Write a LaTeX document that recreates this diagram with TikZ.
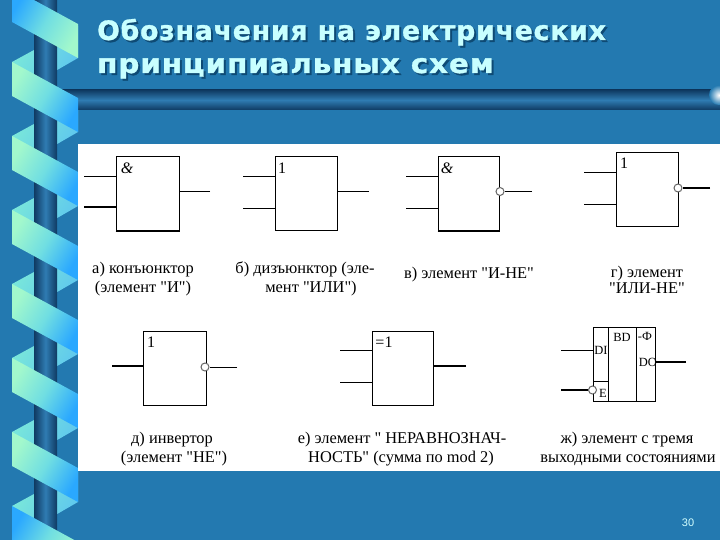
\documentclass[tikz,border=0pt]{standalone}
\usepackage{fontspec}
\setmainfont{Liberation Serif}
\newfontfamily\capfont{Liberation Serif}
\newfontfamily\ttlfont[LetterSpace=3,BoldFeatures={FakeBold=1.2}]{DejaVu Sans}
\newfontfamily\numfont{Liberation Sans}
\definecolor{bgblue}{HTML}{2379B0}
\definecolor{ribgreen}{HTML}{A2F8CC}
\definecolor{ribmid}{HTML}{70DEE2}
\definecolor{ribblue}{HTML}{2AA8FF}
\definecolor{backa}{HTML}{7CEAD8}
\definecolor{backb}{HTML}{5CC4F0}
\definecolor{pildark}{HTML}{0F3A62}
\definecolor{pilmid}{HTML}{2F7CB2}
\definecolor{ttlcol}{HTML}{C8FFFF}
\definecolor{ttlshadow}{HTML}{0E4A74}
\tikzset{
  x=1pt,y=-1pt,
  gatebox/.style={draw=black,fill=white,line width=1pt,inner sep=0pt,minimum width=#1,minimum height=74pt},
  wire/.style={draw=black,line width=0.8pt},
  thickwire/.style={draw=black,line width=1.7pt},
  bubble/.style={circle,draw=black!60,fill=white,line width=1pt,inner sep=0pt,minimum size=8pt},
  captxt/.style={font=\fontsize{16.4}{18}\capfont,inner sep=0pt,anchor=base},
  symtxt/.style={font=\fontsize{16}{18}\capfont,inner sep=0pt,anchor=center},
  smalltxt/.style={font=\fontsize{12.5}{14}\capfont,inner sep=0pt,anchor=center},
  ttl/.style={font=\fontsize{26.7}{30}\ttlfont\bfseries,inner sep=0pt,anchor=base west},
}
\begin{document}
\begin{tikzpicture}
\useasboundingbox (0,0) rectangle (720,540);
\clip (0,0) rectangle (720,540);
\fill[bgblue] (0,0) rectangle (720,540);
% back strips
\foreach \y in {-12,62,136,210,284,358,432,506}{
  \path[top color=backa,bottom color=backb,shading angle=60]
    (12,\y) -- (78,\y-36) -- (78,\y-4) -- (12,\y+34) -- cycle;
}
% pillar
\path[left color=pildark,right color=pildark,middle color=pilmid] (34,0) rectangle (57,540);
% horizontal bar
\path[top color=pildark,bottom color=pildark,middle color=pilmid] (60,90) rectangle (720,110);
\path[inner color=white,outer color=bgblue] (719,95) circle (10);
% front ribbons
\foreach \y/\ca/\cb in {-12/ribblue/ribgreen,62/ribgreen/ribblue,136/ribgreen/ribblue,210/ribgreen/ribblue,284/ribgreen/ribblue,358/ribgreen/ribblue,432/ribgreen/ribblue,506/ribblue/ribgreen}{
  \path[top color=\ca,bottom color=\cb,middle color=ribmid,shading angle=60]
    (12,\y) -- (78,\y+36) -- (78,\y+70) -- (12,\y+34) -- cycle;
}
% panel
\fill[white] (78,144) rectangle (720,471);
% title
\node[ttl,text=ttlshadow] at (99,42) {Обозначения на электрических};
\node[ttl,text=ttlshadow] at (99,75) {\scalebox{1.1}[1]{принципиальных схем}};
\node[ttl,text=ttlcol] (t1) at (97,40) {Обозначения на электрических};
\node[ttl,text=ttlcol] (t2) at (97,73) {\scalebox{1.1}[1]{принципиальных схем}};
\node[font=\fontsize{11}{13}\numfont,text=ttlcol!80!white] (pg) at (688,523) {30};
% gates
\node[gatebox=63pt] (a) at (147.5,194) {};
\node[gatebox=62pt] (b) at (306,194) {};
\node[gatebox=61pt] (c) at (468.5,194) {};
\node[gatebox=62pt] (d) at (647,190) {};
\node[gatebox=63pt] (e) at (174.5,368) {};
\node[gatebox=61pt] (f) at (402.5,368) {};
\node[gatebox=62pt] (g) at (624,364) {};
\draw[line width=1.6pt] (c.south west) -- (c.south east);
\draw[line width=1.6pt] (a.south west) -- (a.south east) -- (a.north east);
% gate g inner lines
\coordinate (g1) at (608,327); \coordinate (g2) at (636,327);
\draw[line width=0.9pt] (g1) -- (g1 |- g.south);
\draw[line width=0.9pt] (g2) -- (g2 |- g.south);
\coordinate (g3) at (593,381);
\draw[line width=0.9pt] (g3) -- (g3 -| g1);
% symbols
\node[symtxt] (sa) at (127,168) {\itshape\&};
\node[symtxt] (sb) at (282,168) {1};
\node[symtxt] (sc) at (447,168) {\itshape\&};
\node[symtxt] (sd) at (624,163) {1};
\node[symtxt] (se) at (151,342) {1};
\node[symtxt] (sf) at (384,342) {=1};
\node[smalltxt] (bd) at (622,337) {BD};
\node[smalltxt] (phi) at (645,336) {-Ф};
\node[smalltxt] (di) at (601,350) {DI};
\node[smalltxt] (en) at (603,393) {E};
\node[smalltxt,anchor=east] (dout) at (657,362) {DO};
% wires
\coordinate (a1) at (84,176); \coordinate (a2) at (84,207); \coordinate (a3) at (210,191);
\draw[wire] (a1) -- (a1 -| a.west);
\draw[thickwire] (a2) -- (a2 -| a.west);
\draw[wire] (a3) -- (a3 -| a.east);
\coordinate (b1) at (243,176); \coordinate (b2) at (243,208); \coordinate (b3) at (369,191);
\draw[wire] (b1) -- (b1 -| b.west);
\draw[wire] (b2) -- (b2 -| b.west);
\draw[wire] (b3) -- (b3 -| b.east);
\coordinate (c1) at (406,176); \coordinate (c2) at (406,208); \coordinate (c3) at (532,191.5);
\draw[wire] (c1) -- (c1 -| c.west);
\draw[wire] (c2) -- (c2 -| c.west);
\node[bubble] (cb) at (500,191.5) {};
\draw[wire] (c3) -- (cb.east);
\coordinate (d1) at (584,172); \coordinate (d2) at (584,204); \coordinate (d3) at (710,188);
\draw[wire] (d1) -- (d1 -| d.west);
\draw[wire] (d2) -- (d2 -| d.west);
\node[bubble] (db) at (678,188) {};
\draw[thickwire] (d3) -- (db.east);
\coordinate (e1) at (112,366); \coordinate (e3) at (237,367);
\draw[thickwire] (e1) -- (e1 -| e.west);
\node[bubble] (eb) at (205,367) {};
\draw[wire] (e3) -- (eb.east);
\coordinate (f1) at (340,350); \coordinate (f2) at (340,382); \coordinate (f3) at (466,366);
\draw[wire] (f1) -- (f1 -| f.west);
\draw[wire] (f2) -- (f2 -| f.west);
\draw[thickwire] (f3) -- (f3 -| f.east);
\coordinate (g4) at (561,350); \coordinate (g5) at (561,390); \coordinate (g6) at (686,362);
\draw[wire] (g4) -- (g4 -| g.west);
\node[bubble] (gb) at (592.5,390) {};
\draw[thickwire] (g5) -- (gb.west);
\draw[thickwire] (g6) -- (g6 -| g.east);
% captions
\node[captxt] (ca1) at (143,273) {а) конъюнктор};
\node[captxt] (ca2) at (143,292) {(элемент "И")};
\node[captxt] (cb1) at (305,273) {б) дизъюнктор (эле-};
\node[captxt] (cb2) at (311,292) {мент "ИЛИ")};
\node[captxt] (cc1) at (469,278) {в) элемент "И-НЕ"};
\node[captxt] (cd1) at (647,277) {г) элемент};
\node[captxt] (cd2) at (647,293) {"ИЛИ-НЕ"};
\node[captxt] (ce1) at (172,443) {д) инвертор};
\node[captxt] (ce2) at (174,462) {(элемент "НЕ")};
\node[captxt] (cf1) at (402,443) {е) элемент " НЕРАВНОЗНАЧ-};
\node[captxt] (cf2) at (401,462) {НОСТЬ" (сумма по mod 2)};
\node[captxt] (cg1) at (627,443) {ж) элемент с тремя};
\node[captxt] (cg2) at (628,462) {выходными состояниями};
\end{tikzpicture}
\end{document}
